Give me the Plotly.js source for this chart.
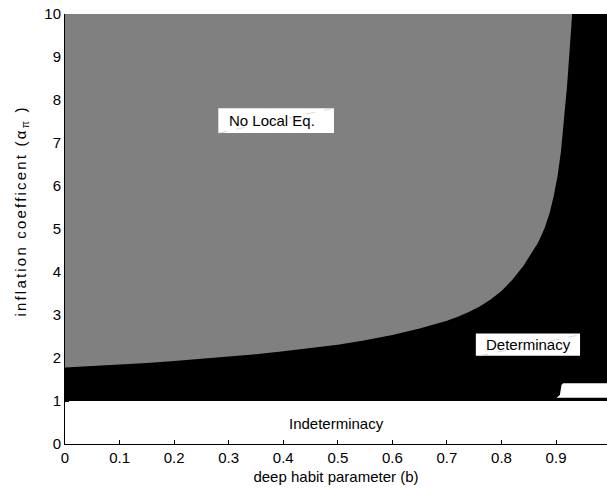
<!DOCTYPE html>
<html>
<head>
<meta charset="utf-8">
<script src="https://cdn.plot.ly/plotly-3.0.1.min.js"></script>
<style>
html,body{margin:0;padding:0;background:#fff;}
#chart{width:607px;height:489px;}
#chart g.annotation[data-index="3"] text.annotation-text{letter-spacing:2.2px;}
</style>
</head>
<body>
<div id="chart"></div>
<script>
// Boundary between "No Local Eq." (above) and "Determinacy" (below)
const habitB = [0, 0.05, 0.1, 0.15, 0.2, 0.25, 0.3, 0.35, 0.4, 0.45, 0.5, 0.55, 0.6, 0.65, 0.7, 0.72, 0.74, 0.76, 0.78, 0.8, 0.82, 0.84, 0.855, 0.867, 0.879, 0.888, 0.896, 0.903, 0.909, 0.915, 0.92, 0.924, 0.927, 0.9295];
const boundaryAlpha = [1.78, 1.81, 1.845, 1.885, 1.93, 1.98, 2.03, 2.09, 2.155, 2.225, 2.31, 2.41, 2.535, 2.685, 2.865, 2.96, 3.07, 3.2, 3.36, 3.56, 3.82, 4.14, 4.44, 4.68, 5.02, 5.36, 5.78, 6.25, 6.8, 7.55, 8.3, 9.0, 9.6, 10];
// Determinacy region extent
const detB = [0, 1, 1, 0];
const detAlpha = [1, 1, 10, 10];
// Small indeterminacy pocket near b ~ 0.9
const notchB = [0.901, 0.907, 0.910, 0.913, 1.0, 1.0];
const notchAlpha = [1.077, 1.14, 1.37, 1.41, 1.41, 1.077];
// Tick labels
const xTicks = [0, 0.1, 0.2, 0.3, 0.4, 0.5, 0.6, 0.7, 0.8, 0.9];
const yTicks = [0, 1, 2, 3, 4, 5, 6, 7, 8, 9, 10];
const regionLabels = ['No Local Eq.', 'Determinacy', 'Indeterminacy'];
const xTitle = 'deep habit parameter (b)';
const yTitle = 'inflation coefficent (α<sub>π</sub> )';

const FONT = 'Liberation Sans, Arial, Helvetica, sans-serif';

const traces = [
  {x: detB, y: detAlpha, type: 'scatter', mode: 'lines', fill: 'toself',
   fillcolor: '#000000', line: {width: 0, color: '#000000'}, hoverinfo: 'skip'},
  {x: habitB.concat([0]), y: boundaryAlpha.concat([10]), type: 'scatter', mode: 'lines', fill: 'toself',
   fillcolor: '#808080', line: {width: 0, color: '#808080'}, hoverinfo: 'skip'},
  {x: notchB, y: notchAlpha, type: 'scatter', mode: 'lines', fill: 'toself',
   fillcolor: '#ffffff', line: {width: 0, color: '#ffffff'}, hoverinfo: 'skip'}
];

const layout = {
  width: 607, height: 489,
  margin: {l: 65, r: 0, t: 14, b: 45},
  paper_bgcolor: '#ffffff', plot_bgcolor: '#ffffff',
  showlegend: false,
  font: {family: FONT, size: 15, color: '#000'},
  xaxis: {
    range: [0, 0.9934], tickvals: xTicks, ticktext: xTicks.map(String),
    ticks: 'inside', ticklen: 4, tickcolor: '#000', tickwidth: 1,
    showline: true, linecolor: '#000', linewidth: 1, mirror: false,
    showgrid: false, zeroline: false, layer: 'below traces',
    tickfont: {family: FONT, size: 15, color: '#000'},
    title: {text: xTitle, font: {family: FONT, size: 15, color: '#000'}, standoff: 6}
  },
  yaxis: {
    range: [0, 10], tickvals: yTicks, ticktext: yTicks.map(String),
    ticks: 'inside', ticklen: 4, tickcolor: '#000', tickwidth: 1,
    showline: true, linecolor: '#000', linewidth: 1, mirror: false,
    showgrid: false, zeroline: false, layer: 'below traces',
    tickfont: {family: FONT, size: 15, color: '#000'}
  },
  shapes: [
    {type: 'rect', xref: 'x', yref: 'y', x0: 0.281, x1: 0.493, y0: 7.23, y1: 7.81,
     fillcolor: '#ffffff', line: {width: 0}, layer: 'above'},
    {type: 'line', xref: 'x', yref: 'y', x0: 0.281, x1: 0.493, y0: 7.23, y1: 7.81,
     line: {width: 1, color: 'rgba(200,200,200,0.7)', dash: 'dash'}, layer: 'above'},
    {type: 'rect', xref: 'x', yref: 'y', x0: 0.753, x1: 0.944, y0: 2.05, y1: 2.57,
     fillcolor: '#ffffff', line: {width: 0}, layer: 'above'},
    {type: 'line', xref: 'x', yref: 'y', x0: 0.76, x1: 0.944, y0: 2.05, y1: 2.54,
     line: {width: 1, color: 'rgba(200,200,200,0.7)', dash: 'dash'}, layer: 'above'}
  ],
  annotations: [
    {text: regionLabels[0], x: 0.297, y: 7.52, xref: 'x', yref: 'y', xanchor: 'left', yanchor: 'middle',
     showarrow: false, font: {family: FONT, size: 15, color: '#000'}},
    {text: regionLabels[1], x: 0.768, y: 2.31, xref: 'x', yref: 'y', xanchor: 'left', yanchor: 'middle',
     showarrow: false, font: {family: FONT, size: 15, color: '#000'}},
    {text: regionLabels[2], x: 0.498, y: 0.48, xref: 'x', yref: 'y', xanchor: 'center', yanchor: 'middle',
     showarrow: false, font: {family: FONT, size: 15, color: '#000'}},
    {text: yTitle, textangle: -90, x: -0.0793, y: 0.542, xref: 'paper', yref: 'paper',
     xanchor: 'center', yanchor: 'middle', showarrow: false,
     font: {family: FONT, size: 15, color: '#000'}}
  ]
};

Plotly.newPlot('chart', traces, layout, {staticPlot: true, displayModeBar: false});
</script>
</body>
</html>
